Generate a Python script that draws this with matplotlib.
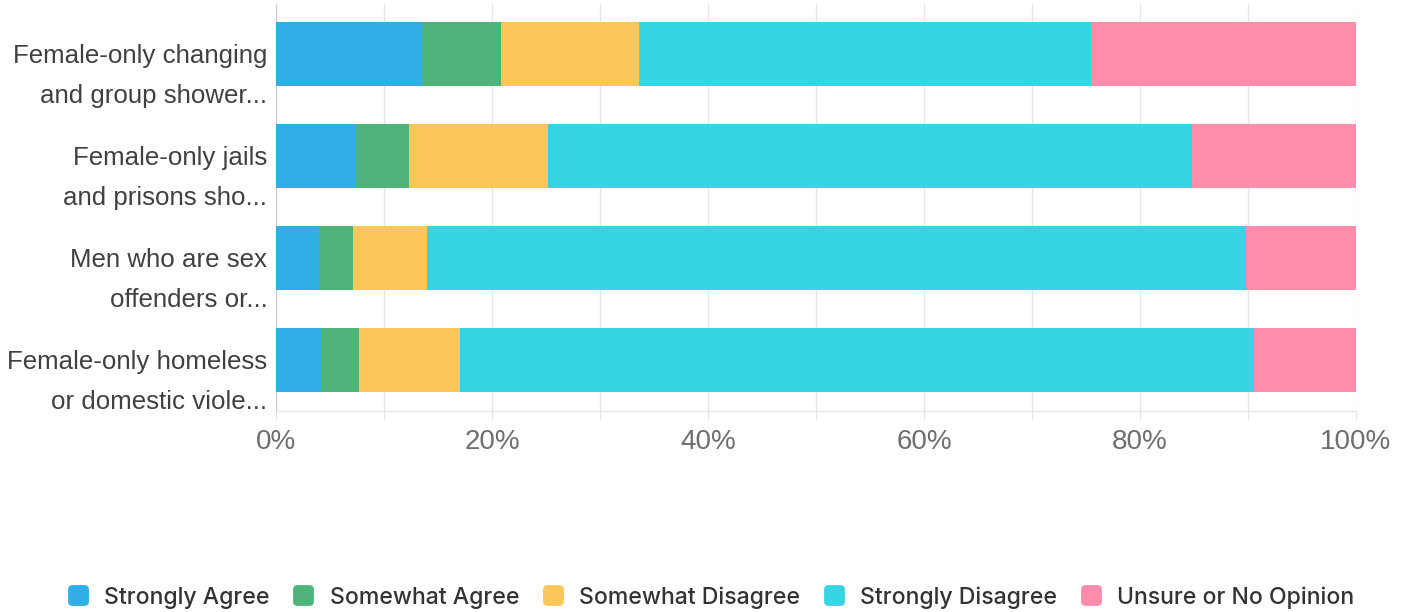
import matplotlib
matplotlib.use('Agg')
import matplotlib.pyplot as plt
import matplotlib.transforms as mtransforms
from matplotlib.patches import FancyBboxPatch
from matplotlib.markers import MarkerStyle
from matplotlib.lines import Line2D
import numpy as np

# survey data (percent)
labels = ['Female-only changing\nand group shower...',
          'Female-only jails\nand prisons sho...',
          'Men who are sex\noffenders or...',
          'Female-only homeless\nor domestic viole...']
series = ['Strongly Agree', 'Somewhat Agree', 'Somewhat Disagree',
          'Strongly Disagree', 'Unsure or No Opinion']
strongly_agree = [13.5, 7.4, 4.0, 4.2]
somewhat_agree = [7.3, 4.9, 3.1, 3.5]
somewhat_disagree = [12.8, 12.9, 6.9, 9.3]
strongly_disagree = [41.9, 59.6, 75.8, 73.6]
unsure = [24.5, 15.2, 10.2, 9.4]
colors = ['#30aee6', '#4eb47c', '#fbc75a', '#37d5e4', '#ff8caa']
xticks = [0, 20, 40, 60, 80, 100]

values = [strongly_agree, somewhat_agree, somewhat_disagree,
          strongly_disagree, unsure]

fig = plt.figure(figsize=(14.06, 6.12), dpi=100)
ax = fig.add_axes([276/1406, 1-411/612, 1080/1406, 407/612])

y = np.arange(len(labels))
left = np.zeros(len(labels))
for name, vals, c in zip(series, values, colors):
    ax.barh(y, vals, left=left, height=0.627, color=c, label=name,
            edgecolor='none', zorder=3)
    left += np.array(vals)

ax.set_xlim(0, 100)
ax.set_ylim(3.5, -0.49)
ax.set_xticks(np.arange(0, 101, 10))
ax.set_xticklabels([f'{t}%' if t in xticks else '' for t in range(0, 101, 10)],
                   family='Liberation Sans', fontsize=20, color='#6e6e6e')
ax.tick_params(axis='x', length=6, color='#e3e3e3', pad=7)
ax.set_yticks([])
ax.grid(axis='x', color='#e6e6e6', linewidth=1, zorder=0)
for s in ['top', 'right']:
    ax.spines[s].set_visible(False)
ax.spines['bottom'].set_color('#e3e3e3')
ax.spines['left'].set_color('#cccccc')

# category labels, two lines each, first line level with the bar
trans = mtransforms.blended_transform_factory(ax.transAxes, ax.transData)
for i, lab in enumerate(labels):
    ax.text(-0.008, i + 0.215, lab, transform=trans, ha='right', va='center',
            family='Liberation Sans', fontsize=18.6, color='#404040',
            linespacing=1.85)

# rounded square legend markers
box = FancyBboxPatch((-0.5, -0.5), 1.0, 1.0,
                     boxstyle='round,pad=0,rounding_size=0.22')
rpath = box.get_path()
handles = [Line2D([], [], linestyle='none', marker=MarkerStyle(rpath),
                  markersize=15, markerfacecolor=c, markeredgecolor='none')
           for c in colors]
fig.legend(handles, series, loc='center', bbox_to_anchor=(0.506, 0.024),
           ncol=5, frameon=False, handlelength=0.8, handletextpad=0.75,
           columnspacing=1.05,
           prop={'family': 'Inter', 'size': 16.6, 'weight': 'medium'},
           labelcolor='#333333')

fig.savefig('out.png', dpi=100)
